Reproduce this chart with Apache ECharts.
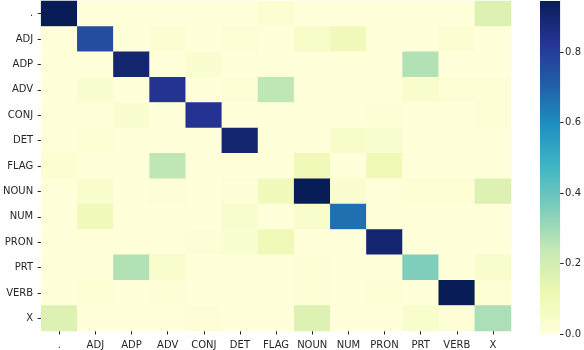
<!DOCTYPE html>
<html>
<head>
<meta charset="utf-8">
<script src="https://cdn.jsdelivr.net/npm/echarts@6/dist/echarts.min.js"></script>
<style>
html,body{margin:0;padding:0;background:#fff;}
#chart{width:584px;height:350px;}
</style>
</head>
<body>
<div id="chart"></div>
<script>
// Tag categories (rows = true tag, columns = predicted tag)
const categories = ['.', 'ADJ', 'ADP', 'ADV', 'CONJ', 'DET', 'FLAG', 'NOUN', 'NUM', 'PRON', 'PRT', 'VERB', 'X'];

// One row of the normalised confusion matrix per true tag
const rowDot  = [0.945, 0, 0, 0, 0, 0, 0.02, 0, 0, 0, 0, 0, 0.17];
const rowADJ  = [0, 0.755, 0, 0.02, 0, 0.015, 0, 0.05, 0.09, 0, 0, 0.02, 0];
const rowADP  = [0, 0, 0.9, 0, 0.03, 0, 0, 0, 0, 0, 0.27, 0, 0];
const rowADV  = [0, 0.03, 0, 0.83, 0, 0.01, 0.25, 0, 0, 0, 0.04, 0.015, 0.01];
const rowCONJ = [0, 0, 0.03, 0, 0.83, 0, 0, 0, 0, 0.01, 0, 0, 0.01];
const rowDET  = [0, 0.015, 0, 0, 0, 0.9, 0, 0, 0.05, 0.03, 0, 0, 0];
const rowFLAG = [0.02, 0, 0, 0.25, 0, 0, 0, 0.1, 0, 0.1, 0, 0, 0];
const rowNOUN = [0, 0.04, 0, 0.01, 0, 0.01, 0.09, 0.945, 0.03, 0, 0.015, 0.015, 0.17];
const rowNUM  = [0, 0.09, 0, 0, 0, 0.04, 0, 0.04, 0.67, 0, 0, 0, 0];
const rowPRON = [0, 0, 0, 0, 0.01, 0.03, 0.1, 0, 0, 0.9, 0, 0, 0];
const rowPRT  = [0, 0, 0.27, 0.04, 0, 0, 0, 0.01, 0, 0, 0.355, 0, 0.04];
const rowVERB = [0, 0.015, 0, 0.01, 0, 0, 0, 0.01, 0, 0.01, 0, 0.945, 0.015];
const rowX    = [0.17, 0, 0, 0, 0.01, 0, 0, 0.17, 0, 0, 0.04, 0.01, 0.28];

const rows = [rowDot, rowADJ, rowADP, rowADV, rowCONJ, rowDET, rowFLAG, rowNOUN, rowNUM, rowPRON, rowPRT, rowVERB, rowX];

// Colour bar scale
const colorMin = 0;
const colorMax = 0.945;
const colorTicks = [0, 0.2, 0.4, 0.6, 0.8];

const ylgnbu = ['#ffffd9','#edf8b1','#c7e9b4','#7fcdbb','#41b6c4','#1d91c0','#225ea8','#253494','#081d58'];

const heatData = [];
rows.forEach((r, i) => r.forEach((v, j) => heatData.push([j, i, v])));

const chart = echarts.init(document.getElementById('chart'), null, {renderer: 'canvas'});
const font = 'DejaVu Sans';
const txt = '#262626';

const option = {
  animation: false,
  backgroundColor: '#ffffff',
  textStyle: {fontFamily: font},
  grid: [
    {left: 38, top: 1, width: 473, height: 333},
    {left: 540, top: 1, width: 21, height: 333}
  ],
  xAxis: [
    {
      type: 'category', gridIndex: 0, data: categories, position: 'bottom',
      axisLine: {show: false},
      axisTick: {show: true, alignWithLabel: true, length: 3.5, lineStyle: {color: txt, width: 1}},
      axisLabel: {color: txt, fontFamily: font, fontSize: 10, margin: 9, interval: 0},
      splitLine: {show: false}
    },
    {
      type: 'category', gridIndex: 1, data: [''],
      show: false
    }
  ],
  yAxis: [
    {
      type: 'category', gridIndex: 0, data: categories, inverse: true,
      axisLine: {show: false},
      axisTick: {show: true, alignWithLabel: true, length: 3.5, lineStyle: {color: txt, width: 1}},
      axisLabel: {color: txt, fontFamily: font, fontSize: 10, margin: 8, interval: 0},
      splitLine: {show: false}
    },
    {
      type: 'value', gridIndex: 1, min: colorMin, max: colorMax, position: 'right',
      axisLine: {show: false},
      axisTick: {show: true, length: 3.5, customValues: colorTicks, lineStyle: {color: txt, width: 1}},
      axisLabel: {color: txt, fontFamily: font, fontSize: 10, margin: 5, customValues: colorTicks,
        formatter: v => v.toFixed(1)},
      splitLine: {show: false}
    }
  ],
  visualMap: {
    show: false, type: 'continuous', seriesIndex: 0,
    min: colorMin, max: colorMax,
    inRange: {color: ylgnbu}
  },
  series: [
    {
      type: 'heatmap', xAxisIndex: 0, yAxisIndex: 0,
      data: heatData,
      itemStyle: {borderWidth: 0},
      emphasis: {disabled: true}
    },
    {
      type: 'bar', xAxisIndex: 1, yAxisIndex: 1,
      data: [colorMax],
      barWidth: '100%',
      itemStyle: {
        color: new echarts.graphic.LinearGradient(0, 0, 0, 1,
          ylgnbu.slice().reverse().map((c, i) => ({offset: i / (ylgnbu.length - 1), color: c})))
      },
      silent: true
    }
  ]
};
chart.setOption(option);
</script>
</body>
</html>
